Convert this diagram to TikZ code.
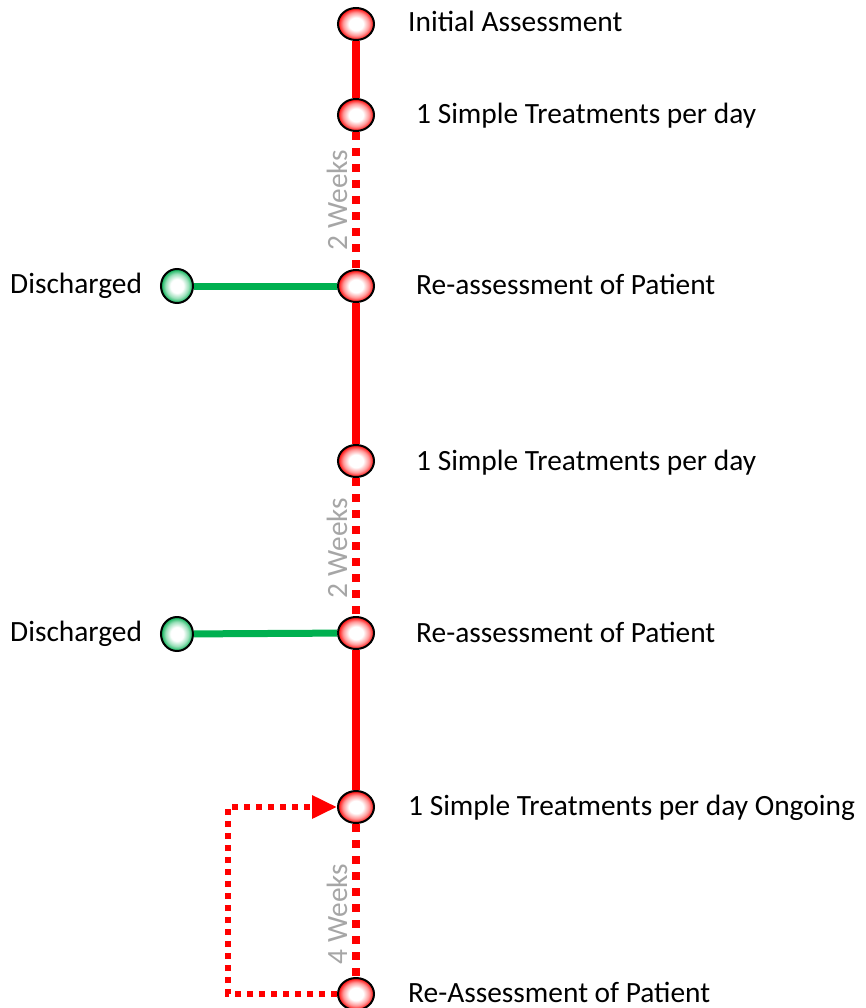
\documentclass[tikz,border=0pt]{standalone}
\usepackage{fontspec}
\setmainfont{Carlito}
\usetikzlibrary{arrows.meta,shapes.geometric}
\definecolor{gr}{HTML}{00B050}
\definecolor{wk}{HTML}{A6A6A6}
\pgfdeclareradialshading{redball}{\pgfpoint{0bp}{0bp}}{color(0bp)=(white); color(10bp)=(white); color(18bp)=(red!40); color(25bp)=(red); color(50bp)=(red)}
\pgfdeclareradialshading{greenball}{\pgfpoint{0bp}{0bp}}{color(0bp)=(white); color(10bp)=(white); color(18bp)=(gr!40); color(25bp)=(gr); color(50bp)=(gr)}
\begin{document}
\begin{tikzpicture}[x=1pt,y=-1pt,
  rnode/.style={ellipse, draw=black, line width=2pt, minimum width=36pt, minimum height=32pt, inner sep=0pt, shading=redball},
  gnode/.style={ellipse, draw=black, line width=2pt, minimum width=32pt, minimum height=34pt, inner sep=0pt, shading=greenball},
  lbl/.style={font=\fontsize{29.4}{34}\selectfont, inner sep=0pt, anchor=base west},
  wklbl/.style={font=\fontsize{29.4}{34}\selectfont, text=wk, inner sep=0pt, rotate=90},
  solidline/.style={red, line width=8pt},
  dotline/.style={red, line width=8pt, dash pattern=on 8pt off 8pt},
  greenline/.style={gr, line width=7pt},
  loopline/.style={red, line width=6pt, dash pattern=on 6pt off 6pt}]
\useasboundingbox (0,0) rectangle (866,1008);
% nodes
\node[rnode] (n1) at (356,24) {};
\node[rnode] (n2) at (356,115) {};
\node[rnode] (n3) at (356,286) {};
\node[rnode] (n4) at (356,461) {};
\node[rnode] (n5) at (356,633) {};
\node[rnode] (n6) at (356,807) {};
\node[rnode] (n7) at (356,994) {};
\node[gnode] (d1) at (177,286) {};
\node[gnode] (d2) at (177,634) {};
% connectors
\draw[solidline] (n1) -- (n2);
\draw[dotline] (n2) -- (n3);
\draw[solidline] (n3) -- (n4);
\draw[dotline] (n4) -- (n5);
\draw[solidline] (n5) -- (n6);
\draw[dotline] (n6) -- (n7);
\draw[greenline] (d1) -- (n3);
\draw[greenline] (d2) -- (n5);
\coordinate (lc) at (228,994);
\draw[loopline, -{Triangle[length=25pt,width=22pt]}] (n7.west) -- (lc) |- (n6.west);
% week labels
\node[wklbl] (w1) at (337,200) {2 Weeks};
\node[wklbl] (w2) at (337,548) {2 Weeks};
\node[wklbl] (w3) at (337,914) {4 Weeks};
% text labels
\node[lbl] (t1) at (408,32) {Initial Assessment};
\node[lbl] (t2) at (416,124) {1 Simple Treatments per day};
\node[lbl] (t3) at (416,294) {Re-assessment of Patient};
\node[lbl] (t4) at (416,470) {1 Simple Treatments per day};
\node[lbl] (t5) at (416,642) {Re-assessment of Patient};
\node[lbl] (t6) at (408,815) {1 Simple Treatments per day Ongoing};
\node[lbl] (t7) at (408,1002) {Re-Assessment of Patient};
\node[lbl] (t8) at (10,293) {Discharged};
\node[lbl] (t9) at (10,641) {Discharged};
\end{tikzpicture}
\end{document}
